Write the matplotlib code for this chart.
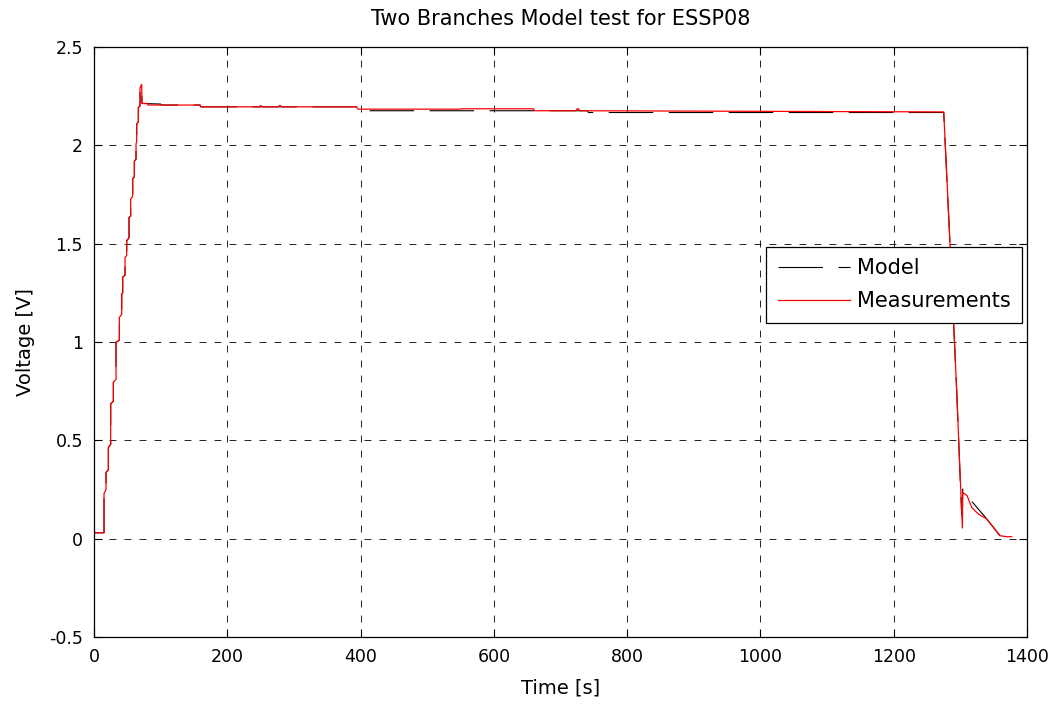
import matplotlib
matplotlib.use("Agg")
import matplotlib.pyplot as plt

plt.rcParams['font.family'] = ['DejaVu Sans']

t_meas = [0, 1, 2, 15, 15, 18, 18, 21.5, 21.5, 25, 25, 29, 29, 33, 33, 38, 38,
          41.5, 41.5, 43, 43, 46.5, 46.5, 49, 49, 52.5, 52.5, 55, 55, 58, 58,
          60.5, 60.5, 63, 63, 64, 64, 66.5, 66.5, 69, 69, 71.5, 72, 80, 81,
          159, 160, 248, 250, 252, 276, 279, 282, 394, 396, 549, 551, 659, 661,
          723, 725, 727, 729, 1275, 1284.5, 1289.5, 1294.5, 1298.5, 1303, 1303.6,
          1310, 1317, 1327, 1339.5, 1349.5, 1359.5, 1369.5, 1377]
v_meas = [0.05, 0.03, 0.03, 0.03, 0.23, 0.25, 0.337, 0.35, 0.464, 0.48, 0.685,
          0.70, 0.795, 0.81, 0.998, 1.01, 1.125, 1.14, 1.244, 1.25, 1.33, 1.34,
          1.43, 1.44, 1.515, 1.53, 1.633, 1.64, 1.727, 1.74, 1.83, 1.84, 1.92,
          1.93, 2.007, 2.02, 2.108, 2.12, 2.193, 2.20, 2.294, 2.31, 2.213, 2.213,
          2.205, 2.205, 2.196, 2.196, 2.203, 2.196, 2.196, 2.203, 2.196, 2.196,
          2.184, 2.184, 2.186, 2.186, 2.176, 2.176, 2.186, 2.186, 2.176, 2.17,
          1.498, 1.125, 0.752, 0.413, 0.054, 0.235, 0.219, 0.159, 0.125, 0.10,
          0.058, 0.015, 0.01, 0.01]

# model voltage
t_model = [0, 15, 15, 18, 18, 21.5, 21.5, 25, 25, 29, 29, 33, 33, 38, 38,
           41.5, 41.5, 43, 43, 46.5, 46.5, 49, 49, 52.5, 52.5, 55, 55, 58, 58,
           60.5, 60.5, 63, 63, 64, 64, 66.5, 66.5, 69, 69, 71, 72, 100, 101,
           159, 160, 394, 396, 740, 742, 1275, 1284.5, 1289.5, 1294.5, 1298.5,
           1302, 1303.6, 1310, 1317, 1327, 1336, 1349.5, 1358, 1364.5, 1372]
v_model = [0.03, 0.03, 0.23, 0.25, 0.337, 0.35, 0.464, 0.48, 0.685, 0.70,
           0.795, 0.81, 0.998, 1.01, 1.125, 1.14, 1.244, 1.25, 1.33, 1.34, 1.43,
           1.44, 1.515, 1.53, 1.633, 1.64, 1.727, 1.74, 1.83, 1.84, 1.92, 1.93,
           2.007, 2.02, 2.108, 2.12, 2.193, 2.20, 2.294, 2.30, 2.213, 2.21, 2.205,
           2.205, 2.196, 2.196, 2.176, 2.176, 2.167, 2.167, 1.49, 1.12, 0.75,
           0.41, 0.12, 0.252, 0.24, 0.19, 0.15, 0.115, 0.058, 0.02, 0.0, 0.0]

fig = plt.figure(figsize=(10.59, 7.04), dpi=100)
ax = fig.add_axes([0.0888, 0.0952, 0.881, 0.838])

ax.plot(t_model, v_model, color='k', lw=0.8, dashes=(40, 14), label='Model')
ax.plot(t_meas, v_meas, color='r', lw=0.9, label='Measurements')

ax.set_xlim(0, 1400)
ax.set_ylim(-0.5, 2.5)
ax.set_xticks(range(0, 1401, 200))
ax.set_yticks([-0.5, 0, 0.5, 1, 1.5, 2, 2.5])
ax.set_yticklabels(['-0.5', '0', '0.5', '1', '1.5', '2', '2.5'])
ax.grid(True, color='k', lw=0.6, linestyle=(0, (8.3, 9.7)))
ax.tick_params(direction='in', length=6, top=True, right=True, labelsize=12.5,
               width=0.8, pad=8)
for s in ax.spines.values():
    s.set_linewidth(0.9)

ax.set_xlabel('Time [s]', fontsize=14, labelpad=9)
ax.set_ylabel('Voltage [V]', fontsize=14, labelpad=10)
ax.set_title('Two Branches Model test for ESSP08', fontsize=15, pad=16)

leg = ax.legend(loc='upper left', bbox_to_anchor=(0.7203, 0.661), fontsize=15,
                fancybox=False, framealpha=1, edgecolor='k', handlelength=3.5,
                borderpad=0.55, labelspacing=0.62, handletextpad=0.3,
                borderaxespad=0)
leg.get_frame().set_linewidth(0.9)

fig.savefig('out.png', dpi=100)
